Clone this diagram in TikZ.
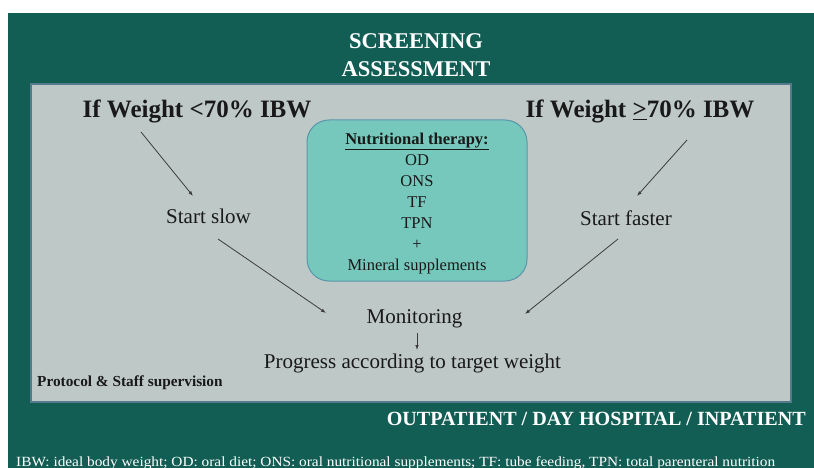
\documentclass[tikz,border=0pt]{standalone}
\usepackage{fontspec}
\setmainfont{Liberation Serif}
\newfontfamily\tnr{Liberation Serif}
\usetikzlibrary{arrows.meta}
\definecolor{dkgreen}{RGB}{19,94,84}
\definecolor{panel}{RGB}{190,200,199}
\definecolor{panelborder}{RGB}{84,122,140}
\definecolor{tealbox}{RGB}{118,200,188}
\definecolor{tealborder}{RGB}{90,150,170}
\definecolor{ink}{RGB}{25,25,25}
\begin{document}
\begin{tikzpicture}[x=1pt,y=-1pt,
  every node/.style={font=\tnr},
  txt/.style={inner sep=0pt, anchor=base, text=ink},
  wtxt/.style={inner sep=0pt, anchor=base, text=white},
  conn/.style={-{Latex[length=5pt,width=3.6pt]}, line width=0.8pt, draw=ink!85}]
\useasboundingbox (0,0) rectangle (814,468);
\fill[white] (0,0) rectangle (814,468);
\fill[dkgreen] (8,13) rectangle (814,468);
\draw[panelborder, fill=panel, line width=1.2pt] (31,84) rectangle (791,402);
% titles
\node[wtxt, font=\tnr\bfseries\fontsize{22.5}{27}\selectfont] (scr) at (416,49) {SCREENING};
\node[wtxt, font=\tnr\bfseries\fontsize{22.5}{27}\selectfont] (ass) at (416,77) {ASSESSMENT};
% therapy box
\node[draw=tealborder, fill=tealbox, line width=1pt, rounded corners=22pt,
      minimum width=220pt, minimum height=161pt, inner sep=0pt] (ther) at (417,200.5) {};
\node[inner sep=0pt, align=center, text=ink, font=\tnr\fontsize{16.5}{21}\selectfont] (thertxt) at (417,203.5)
  {{\bfseries\underline{Nutritional therapy:}}\\OD\\ONS\\TF\\TPN\\+\\Mineral supplements};
% conditions
\node[txt, font=\tnr\bfseries\fontsize{25}{30}\selectfont] (low) at (197,118) {If Weight <70\% IBW};
\node[txt, font=\tnr\bfseries\fontsize{25}{30}\selectfont] (high) at (640,118) {If Weight \underline{>}70\% IBW};
\node[txt, font=\tnr\fontsize{21}{25}\selectfont] (slow) at (208.5,223) {Start slow};
\node[txt, font=\tnr\fontsize{21}{25}\selectfont] (fast) at (626,225) {Start faster};
\node[txt, font=\tnr\fontsize{21}{25}\selectfont] (mon) at (414.5,323) {Monitoring};
\node[txt, font=\tnr\fontsize{21}{25}\selectfont] (prog) at (412.5,368) {Progress according to target weight};
\node[txt, anchor=base west, font=\tnr\bfseries\fontsize{15.3}{18}\selectfont] (prot) at (37,386) {Protocol \& Staff supervision};
\node[wtxt, anchor=base east, font=\tnr\bfseries\fontsize{20.1}{24}\selectfont] (setting) at (806,425) {OUTPATIENT / DAY HOSPITAL / INPATIENT};
\node[wtxt, anchor=base west, font=\tnr\fontsize{14}{16}\selectfont] (foot) at (16,466) {\scalebox{1.095}[1]{IBW: ideal body weight; OD: oral diet; ONS: oral nutritional supplements; TF: tube feeding, TPN: total parenteral nutrition}};
% connector end points
\coordinate (l1) at (141,132); \coordinate (l2) at (193,196);
\coordinate (l3) at (218,239); \coordinate (l4) at (326,313);
\coordinate (r1) at (687,140); \coordinate (r2) at (637,196);
\coordinate (r3) at (618,239); \coordinate (r4) at (525,314);
\coordinate (m1) at (417,333); \coordinate (m2) at (417,350);
\draw[conn] (l1) -- (l2);
\draw[conn] (l3) -- (l4);
\draw[conn] (r1) -- (r2);
\draw[conn] (r3) -- (r4);
\draw[conn] (m1) -- (m2);
\end{tikzpicture}
\end{document}
